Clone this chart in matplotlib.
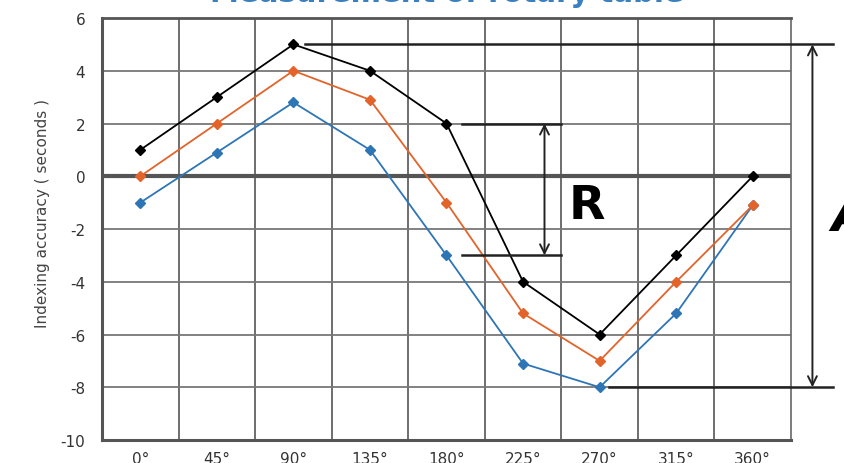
import matplotlib.pyplot as plt

plt.rcParams['axes.unicode_minus'] = False

# 각도별 분할 정밀도 (초)
angles = ['0°', '45°', '90°', '135°', '180°', '225°', '270°', '315°', '360°']
run_black = [1, 3, 5, 4, 2, -4, -6, -3, 0]
run_orange = [0, 2, 4, 2.9, -1, -5.2, -7, -4, -1.1]
run_blue = [-1, 0.9, 2.8, 1, -3, -7.1, -8, -5.2, -1.1]
yticks = [-10, -8, -6, -4, -2, 0, 2, 4, 6]

fig = plt.figure(figsize=(8.45, 4.64), dpi=100)
ax = fig.add_axes([102 / 845, 1 - 441 / 464, 689 / 845, 422 / 464])

x = list(range(len(angles)))
ax.set_xlim(-0.5, len(angles) - 0.5)
ax.set_ylim(-10, 6)

# 격자
for v in [i + 0.5 for i in range(len(angles) - 1)]:
    ax.axvline(v, color='#555555', lw=1.2, zorder=1)
for v in yticks[1:-1]:
    if v == 0:
        ax.axhline(v, color='#555555', lw=3, zorder=1)
    else:
        ax.axhline(v, color='#777777', lw=1.3, zorder=1)

ax.plot(x, run_blue, '-D', color='#2E75B6', lw=1.3, ms=5, zorder=3)
ax.plot(x, run_orange, '-D', color='#E2642B', lw=1.3, ms=5, zorder=3)
ax.plot(x, run_black, '-D', color='black', lw=1.3, ms=5, zorder=4)

for s in ['left', 'bottom']:
    ax.spines[s].set_linewidth(2.2)
    ax.spines[s].set_color('#555555')
ax.spines['top'].set_linewidth(2)
ax.spines['top'].set_color('#555555')
ax.spines['right'].set_linewidth(1.2)
ax.spines['right'].set_color('#666666')

ax.set_xticks(x)
ax.set_xticklabels(angles)
ax.set_yticks(yticks)
ax.tick_params(length=0, labelsize=11, labelcolor='#333333')
ax.tick_params(axis='y', pad=12)
ax.tick_params(axis='x', pad=8)
ax.set_ylabel('Indexing accuracy ( seconds )', fontsize=11, color='#444444')
ax.yaxis.set_label_coords(-0.076, 0.538)

# R : 180° 에서의 편차
r_top, r_bot = run_black[4], run_blue[4]
ax.plot([4.2, 5.5], [r_top, r_top], color='#222222', lw=1.8, zorder=5)
ax.plot([4.2, 5.5], [r_bot, r_bot], color='#222222', lw=1.8, zorder=5)
ax.annotate('', xy=(5.28, r_top), xytext=(5.28, r_bot),
            arrowprops=dict(arrowstyle='<->', lw=1.4, color='#222222',
                            shrinkA=0, shrinkB=0, mutation_scale=16))
ax.text(5.6, -1.1, 'R', fontsize=34, fontweight='bold', va='center', ha='left')

# A : 전체 범위
a_top, a_bot = max(run_black), min(run_blue)
ax.plot([2.15, 9.05], [a_top, a_top], color='#222222', lw=1.8, clip_on=False, zorder=5)
ax.plot([6.12, 9.05], [a_bot, a_bot], color='#222222', lw=1.8, clip_on=False, zorder=5)
ax.annotate('', xy=(8.78, a_top), xytext=(8.78, a_bot), annotation_clip=False,
            arrowprops=dict(arrowstyle='<->', lw=1.4, color='#222222',
                            shrinkA=0, shrinkB=0, mutation_scale=16))
ax.text(9.02, -1.5, 'A', fontsize=36, fontweight='bold', fontstyle='italic',
        va='center', ha='left', clip_on=False)

fig.text(0.529, 1 - 2 / 464, 'Measurement of rotary table', fontsize=21,
         fontweight='bold', color='#3A80C0', ha='center', va='baseline')

plt.savefig('out.png', dpi=100)
